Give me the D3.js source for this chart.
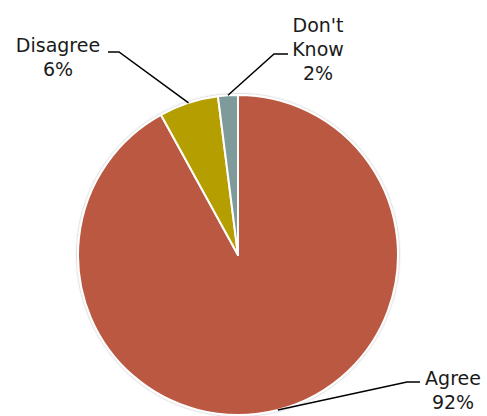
<!DOCTYPE html>
<html>
<head>
<meta charset="utf-8">
<script src="https://cdn.jsdelivr.net/npm/d3@7"></script>
<style>
  body { margin: 0; background: #fff; }
  svg text { font-family: "DejaVu Sans", sans-serif; font-size: 19px; fill: #1a1a1a; }
</style>
</head>
<body>
<div id="chart"></div>
<script>
  var categories = ["Agree", "Disagree", "Don't Know"];
  var values = [92, 6, 2];
  var colors = ["#BA5943", "#B59F00", "#7E9A9A"];

  // label text lines + where the label block sits (elbow of leader line)
  var labelLines = [["Agree", "92%"], ["Disagree", "6%"], ["Don't", "Know", "2%"]];
  var labelPos = [
    { x: 453, y: 385, elbowX: 407, lineY: 382, endX: 420 },
    { x: 58, y: 52, elbowX: 119, lineY: 52, endX: 108 },
    { x: 318, y: 32, elbowX: 274, lineY: 54, endX: 288 }
  ];

  var width = 487, height = 416;
  var cx = 238, cy = 255, r = 160;

  var data = categories.map(function(c, i) {
    return { name: c, value: values[i], color: colors[i], lines: labelLines[i], pos: labelPos[i] };
  });

  var svg = d3.select("#chart").append("svg").attr("width", width).attr("height", height);

  var defs = svg.append("defs");
  var f = defs.append("filter").attr("id", "shadow").attr("x", "-10%").attr("y", "-10%").attr("width", "120%").attr("height", "120%");
  f.append("feGaussianBlur").attr("in", "SourceAlpha").attr("stdDeviation", 1.2);
  f.append("feOffset").attr("dx", 0).attr("dy", 0).attr("result", "blur");
  f.append("feComponentTransfer").append("feFuncA").attr("type", "linear").attr("slope", 0.35);
  var m = f.append("feMerge");
  m.append("feMergeNode");
  m.append("feMergeNode").attr("in", "SourceGraphic");

  var g = svg.append("g").attr("transform", "translate(" + cx + "," + cy + ")");

  var pie = d3.pie().sort(null).value(function(d) { return d.value; });
  var arc = d3.arc().innerRadius(0).outerRadius(r);
  var arcs = pie(data);

  g.append("g").attr("filter", "url(#shadow)")
    .selectAll("path").data(arcs).enter().append("path")
    .attr("d", arc)
    .attr("fill", function(d) { return d.data.color; })
    .attr("stroke", "#fff")
    .attr("stroke-width", 2)
    .attr("stroke-linejoin", "round");

  // leader lines
  arcs.forEach(function(d) {
    var mid = (d.startAngle + d.endAngle) / 2;
    var px = cx + Math.sin(mid) * r, py = cy - Math.cos(mid) * r;
    var p = d.data.pos;
    svg.append("polyline")
      .attr("points", [[px, py], [p.elbowX, p.lineY], [p.endX, p.lineY]].map(function(q) { return q.join(","); }).join(" "))
      .attr("fill", "none").attr("stroke", "#000").attr("stroke-width", 1.5);

    var t = svg.append("text").attr("text-anchor", "middle");
    d.data.lines.forEach(function(line, i) {
      t.append("tspan").attr("x", p.x).attr("y", p.y + i * 24).text(line);
    });
  });
</script>
</body>
</html>
